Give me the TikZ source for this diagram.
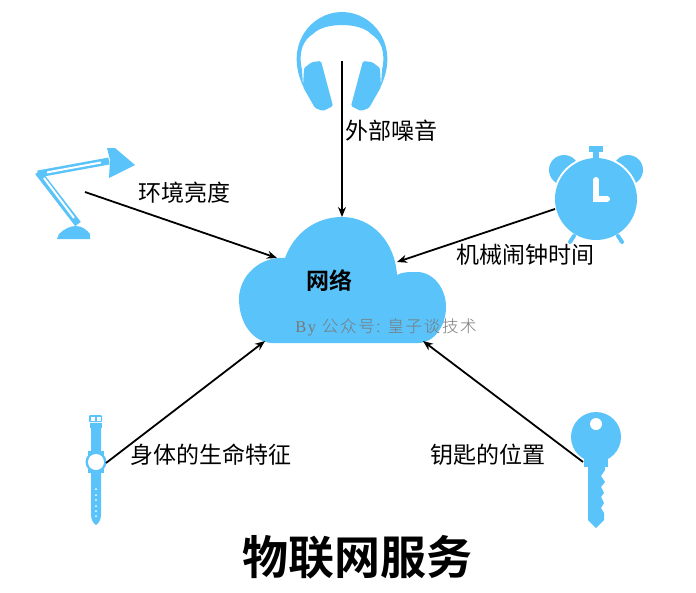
\documentclass[tikz,border=0pt]{standalone}
\usepackage{fontspec}
\usetikzlibrary{arrows.meta}
\newfontfamily\cjk{Noto Sans CJK SC}
\newfontfamily\cjkb{Noto Sans CJK SC Bold}
\newfontfamily\cjkw[LetterSpace=10]{Noto Sans CJK SC Light}
\newfontfamily\latw[LetterSpace=10]{Liberation Serif}
\definecolor{iot}{HTML}{5AC3F9}
\tikzset{
  icon/.style={fill=iot,draw=none},
  hole/.style={fill=white,draw=none},
  link/.style={draw=black,line width=1.8pt,-{Stealth[length=10pt,width=8pt]}},
  lab/.style={inner sep=0pt,font=\cjk\fontsize{23}{26}\selectfont,text=black},
}
\begin{document}
\begin{tikzpicture}[x=1pt,y=-1pt]
\useasboundingbox (0,0) rectangle (696,592);
% cloud
\fill[iot] (272,343) .. controls (252,342) and (239,322) .. (239,299)
  .. controls (239,276) and (260,256) .. (285,258)
  .. controls (294,233) and (316,217) .. (342,217)
  .. controls (372,217) and (395,242) .. (397,275)
  .. controls (402,272) and (408,272) .. (417,272)
  .. controls (433,272) and (446,288) .. (446,307)
  .. controls (446,326) and (434,343) .. (418,343) -- cycle;
% headphones
\fill[iot] (303,86) .. controls (284,45) and (311,12) .. (342,12)
  .. controls (373,12) and (400,45) .. (381,86) -- (382,70)
  .. controls (386,52) and (381,40) .. (371,34)
  .. controls (360,22) and (324,22) .. (313,34)
  .. controls (303,40) and (298,52) .. (302,70) -- cycle;
\fill[iot,rounded corners=1.5pt] (304,68) -- (312,62) -- (321,61) -- (333,106) -- (323,111) -- (315,108) -- (303,87) -- cycle;
\fill[iot,rounded corners=1.5pt] (380,68) -- (372,62) -- (363,61) -- (351,106) -- (361,111) -- (369,108) -- (381,87) -- cycle;
% lamp
\fill[iot] (107,148) -- (115,148) -- (135,165) -- (109,178) -- (110,160) -- cycle;
\draw[iot,line width=7pt] (38,174) -- (109,161);
\draw[white,line width=2pt] (47,172.4) -- (101,162.5);
\draw[iot,line width=7pt] (38,172) -- (78,224);
\draw[white,line width=2pt] (44,178) -- (74,218);
\fill[iot] (57,239) -- (59,234) .. controls (64,229) and (70,226) .. (76,226) .. controls (82,226) and (87,230) .. (90,234) -- (90,239) -- cycle;
% clock
\fill[iot] (564,170) circle (15);
\fill[iot] (628,170) circle (15);
\fill[white] (596,199) circle (43);
\fill[iot] (596,199) circle (41);
\fill[iot] (589,146) rectangle (603,152);
\fill[iot] (593,152) rectangle (599,158);
\draw[iot,line width=4pt,line cap=round] (574,236) -- (570,242);
\draw[iot,line width=4pt,line cap=round] (618,236) -- (622,242);
\draw[white,line width=6pt,line cap=round] (596,180) -- (596,199) -- (607,199);
% watch
\fill[iot,rounded corners=1pt] (89,415) rectangle (102,422);
\fill[white] (91,416.5) rectangle (95,421);
\fill[white] (96.5,416.5) rectangle (100.5,421);
\fill[iot] (90,423) rectangle (102,428);
\fill[iot] (91,423) -- (101,423) -- (101,515) .. controls (101,520) and (98,524) .. (96,525) .. controls (94,524) and (91,520) .. (91,515) -- cycle;
\fill[iot] (96,462) circle (10.5);
\fill[iot] (88,451) rectangle (104,473);
\fill[white] (96,462) circle (8);
\foreach \yy in {489,495,500,506,511,516}{\fill[white] (96,\yy) circle (1);}
% key
\fill[iot] (596,437) circle (25);
\fill[iot] (584,458) rectangle (608,467);
\fill[iot] (588,465) -- (605,465) -- (605,470) -- (601,476) -- (605,482) -- (601,487) -- (604,493) -- (601,497) -- (604,503) -- (601,508) -- (604,513) -- (604,520) -- (596,528) -- (588,520) -- cycle;
\fill[white] (596,424) circle (6);
% end points
\coordinate (headphones) at (342,61);
\coordinate (lamp) at (85,192);
\coordinate (clock) at (555,209);
\coordinate (watch) at (106,463);
\coordinate (key) at (583,462);
\coordinate (cloudtop) at (342,217);
\coordinate (cloudlamp) at (277,258);
\coordinate (cloudclock) at (397,262);
\coordinate (cloudwatch) at (265,341);
\coordinate (cloudkey) at (423,341);
\draw[link] (headphones) -- (cloudtop);
\draw[link] (lamp) -- (cloudlamp);
\draw[link] (clock) -- (cloudclock);
\draw[link] (watch) -- (cloudwatch);
\draw[link] (key) -- (cloudkey);
% labels
\node[lab] (l1) at (391.5,131) {外部噪音};
\node[lab] (l2) at (184.5,193) {环境亮度};
\node[lab] (l3) at (525,255) {机械闹钟时间};
\node[lab] (l4) at (210.5,455) {身体的生命特征};
\node[lab] (l5) at (487.5,455) {钥匙的位置};
\node[inner sep=0pt,font=\cjkb\fontsize{23}{26}\selectfont] (net) at (329.5,281) {网络};
\node[inner sep=0pt,text=gray!95!black,font=\fontsize{16.5}{18}\selectfont] (wm) at (386,327) {\latw By \cjkw 公众号: 皇子谈技术};
\node[inner sep=0pt,font=\cjkb\fontsize{46}{50}\selectfont] (title) at (357,557) {物联网服务};
\end{tikzpicture}
\end{document}
